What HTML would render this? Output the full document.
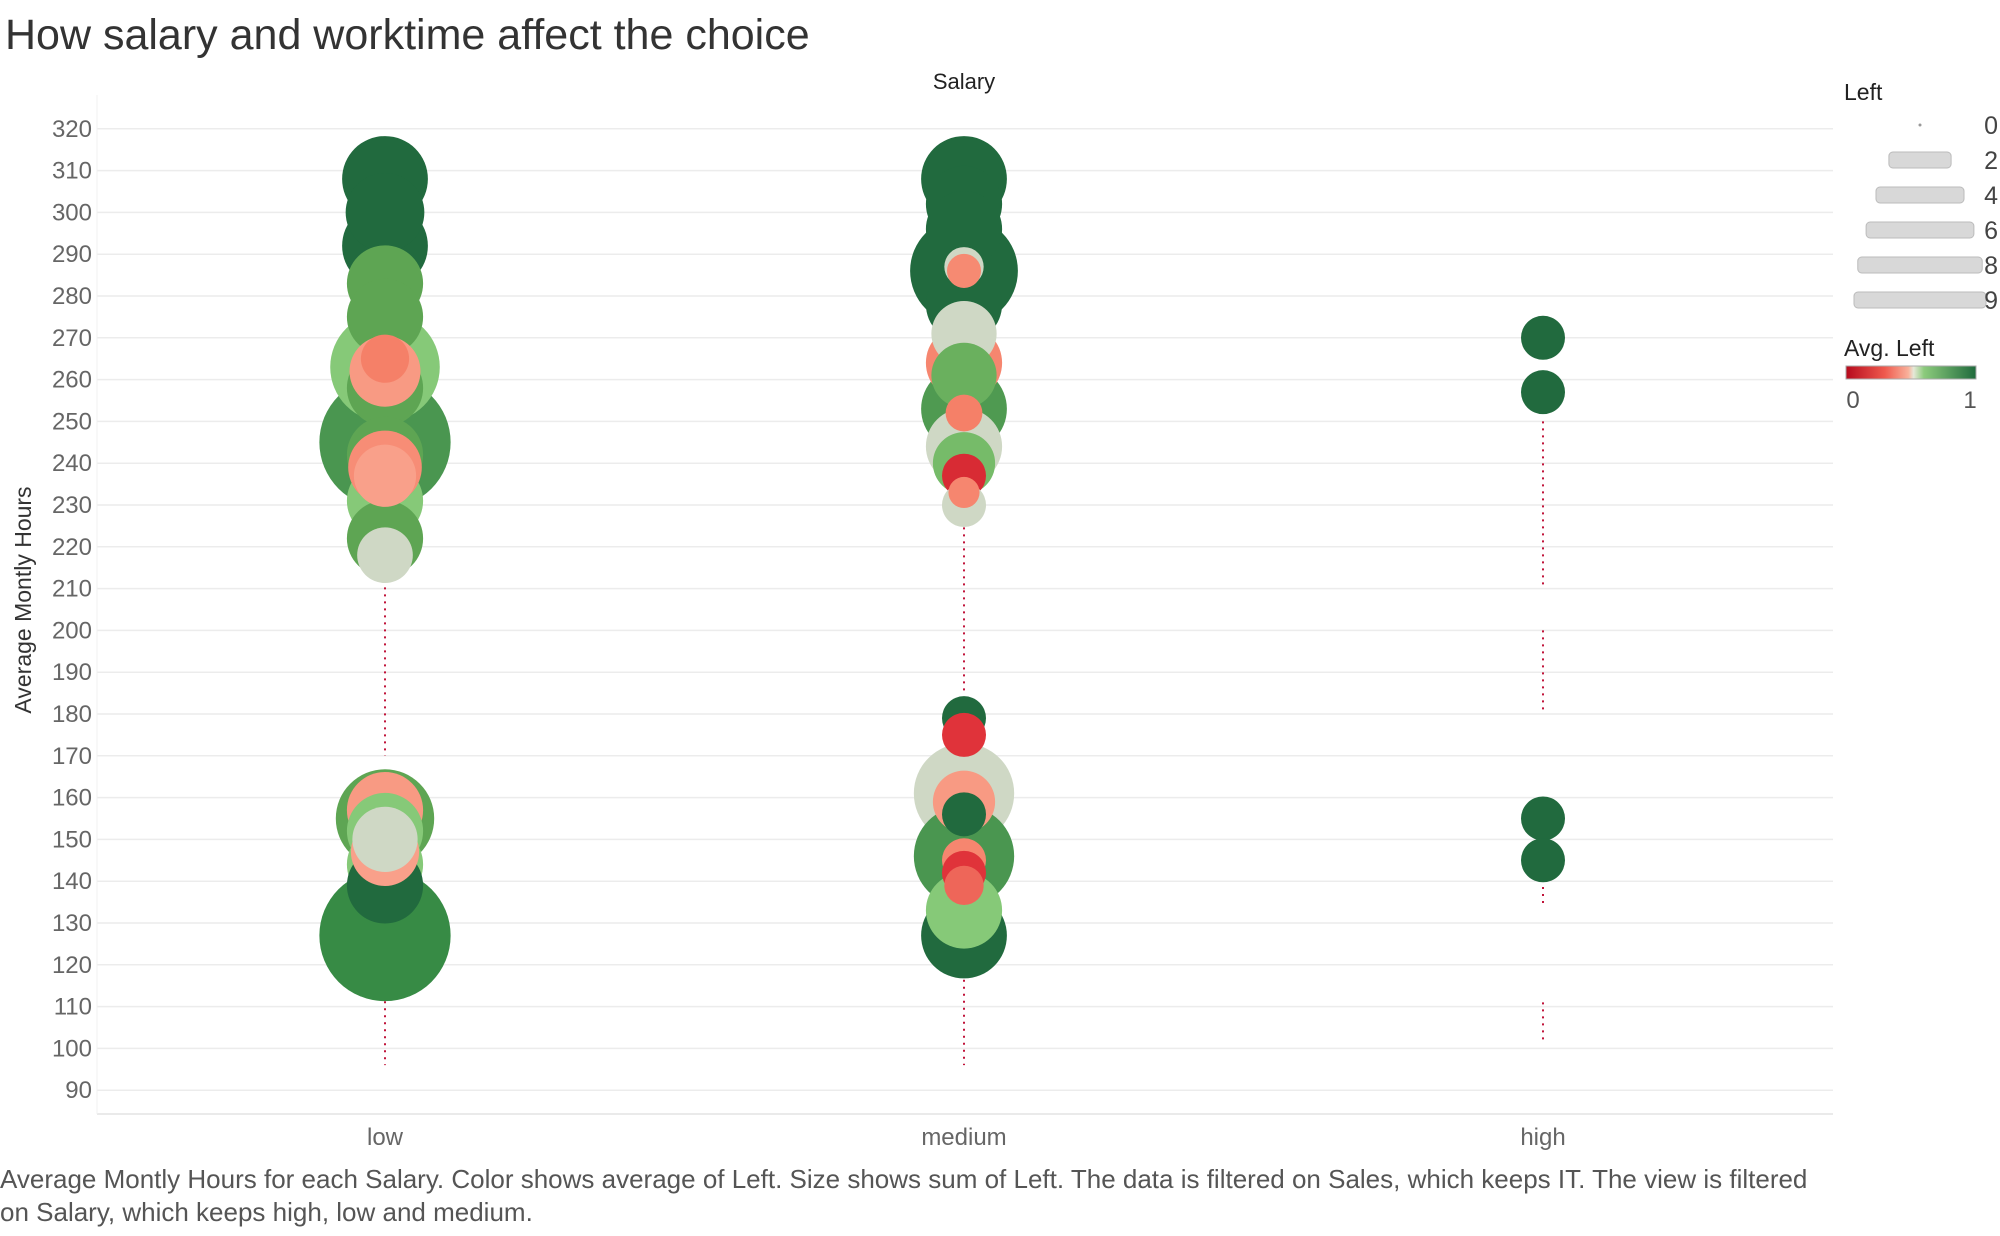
<!DOCTYPE html>
<html><head><meta charset="utf-8"><style>
body{margin:0;background:#fff;}
svg text{font-family:"Liberation Sans",sans-serif;}
</style></head><body>
<svg id="c" width="2000" height="1231" viewBox="0 0 2000 1231" xmlns="http://www.w3.org/2000/svg">
<text x="5" y="49" font-size="43" fill="#333">How salary and worktime affect the choice</text>
<text x="964" y="89" font-size="22" fill="#222" text-anchor="middle">Salary</text>
<g id="grid"></g><g id="dots"></g><g id="bubbles"></g><g id="axes"></g>
<text transform="translate(31,600) rotate(-90)" font-size="23" fill="#333" text-anchor="middle">Average Montly Hours</text>
<text x="0" y="1188" font-size="26" fill="#555">Average Montly Hours for each Salary.  Color shows average of Left.  Size shows sum of Left. The data is filtered on Sales, which keeps IT. The view is filtered</text>
<text x="0" y="1221" font-size="26" fill="#555">on Salary, which keeps high, low and medium.</text>
<g>
<text x="1844" y="100" font-size="23" fill="#222">Left</text>
<g id="sizeLeg"></g>
</g>
<g>
<text x="1844" y="356" font-size="23" fill="#222">Avg. Left</text>
<defs><linearGradient id="gr" x1="0" x2="1"><stop offset="0" stop-color="#b60a1c"/><stop offset="0.3" stop-color="#ef5a4e"/><stop offset="0.48" stop-color="#f9b19b"/><stop offset="0.52" stop-color="#e6e8d8"/><stop offset="0.6" stop-color="#8ccb7c"/><stop offset="1" stop-color="#1f6a3c"/></linearGradient></defs>
<rect x="1846" y="366" width="130" height="13" fill="url(#gr)" stroke="#aaa" stroke-width="1"/>
<text x="1853" y="408" font-size="24" fill="#555" text-anchor="middle">0</text>
<text x="1970" y="408" font-size="24" fill="#555" text-anchor="middle">1</text>
</g>
</svg>
<script>
const categories=["low","medium","high"];
const yTicks=[90,100,110,120,130,140,150,160,170,180,190,200,210,220,230,240,250,260,270,280,290,300,310,320];
const bubbleCat=["low","low","low","low","low","low","low","low","low","low","low","low","low","low","low","low",
"low","low","low","low","low","low","low","low",
"medium","medium","medium","medium","medium","medium","medium","medium","medium","medium","medium","medium","medium","medium","medium","medium","medium",
"medium","medium","medium","medium","medium","medium","medium","medium","medium","medium","medium",
"high","high","high","high"];
const bubbleHours=[308,300,292,283,275,263,265,262,258,245,242,239,237,231,222,218,
155,157,152,150,147,144,139,127,
308,302,296,286,286,287,278,271,264,261,253,252,244,240,237,233,230,
179,175,161,159,156,146,145,142,139,133,127,
270,257,155,145];
const bubbleSum=[3.8,3.2,3.8,3.0,3.0,6.2,1.2,2.6,3.0,8.9,3.0,2.8,2.0,3.0,3.0,1.6,
5.0,3.0,3.0,2.2,2.4,3.0,3.0,8.9,
3.8,3.0,3.0,6.0,0.6,0.8,3.0,2.2,3.0,2.2,3.8,0.7,3.0,2.0,1.0,0.5,1.0,
1.0,1.0,5.2,2.0,1.0,5.2,1.0,1.0,0.8,3.0,3.8,
1.0,1.0,1.0,1.0];
const bubbleAvg=[1,1,1,0.78,0.78,0.68,0.3,0.38,0.78,0.86,0.78,0.34,0.4,0.68,0.78,0.5,
0.78,0.38,0.68,0.5,0.4,0.68,1,0.9,
1,1,1,1,0.33,0.5,1,0.5,0.32,0.75,0.84,0.3,0.5,0.72,0.12,0.32,0.5,
1,0.15,0.5,0.38,1,0.86,0.32,0.15,0.25,0.68,1,
1,1,1,1];
const dotCat=["low","low","medium","medium","medium","high","high","high","high"];
const dotFrom=[170,96,185,96,120,102,180,210,134];
const dotTo=[217,123,228,170,124,111,200,250,152];
const legendValues=[0,2,4,6,8,9];

const NS="http://www.w3.org/2000/svg";
const X0=97,X1=1833,YB=1114;
function xPos(c){const i=categories.indexOf(c);return 385+i*579;}
function yPos(h){return 128.8+(320-h)*4.18;}
function rad(v){return 22*Math.sqrt(v);}
const stops=[[0,[182,10,28]],[0.15,[224,51,58]],[0.3,[245,128,104]],[0.4,[249,160,138]],[0.5,[207,216,197]],[0.68,[134,201,120]],[0.78,[94,165,83]],[0.86,[74,150,80]],[0.92,[46,133,64]],[1,[33,106,62]]];
function color(a){for(let i=1;i<stops.length;i++){if(a<=stops[i][0]){const[a0,c0]=stops[i-1],[a1,c1]=stops[i];const t=(a-a0)/(a1-a0);return"rgb("+c0.map((v,k)=>Math.round(v+(c1[k]-v)*t)).join(",")+")";}}return"rgb(33,106,62)";}
function mk(tag,attrs,parent){const e=document.createElementNS(NS,tag);for(const k in attrs)e.setAttribute(k,attrs[k]);parent.appendChild(e);return e;}
const grid=document.getElementById("grid"),axes=document.getElementById("axes");
yTicks.forEach(t=>{
 const l=mk("line",{x1:X0,x2:X1,y1:yPos(t),y2:yPos(t),stroke:"#ececec","stroke-width":1.5},grid);
 
 
 const tx=mk("text",{x:92,y:yPos(t)+8,"font-size":24,fill:"#666","text-anchor":"end"},axes);
 tx.textContent=t;
 
 
});
const ax=mk("line",{x1:X0,x2:X1,y1:YB,y2:YB,stroke:"#e4e4e4","stroke-width":1.5},axes);


const va=mk("line",{x1:X0,x2:X0,y1:95,y2:YB,stroke:"#f0f0f0","stroke-width":1},axes);


categories.forEach(c=>{
 const tx=mk("text",{x:xPos(c),y:1145,"font-size":24,fill:"#666","text-anchor":"middle"},axes);
 tx.textContent=c;
 
 
});
const dots=document.getElementById("dots");
dotCat.forEach((c,i)=>{
 const l=mk("line",{x1:xPos(c),x2:xPos(c),y1:yPos(dotTo[i]),y2:yPos(dotFrom[i]),stroke:"#c0143a","stroke-width":2,"stroke-dasharray":"2 5"},dots);
 
 
});
const bg=document.getElementById("bubbles");
const order=bubbleCat.map((c,i)=>i).sort((a,b)=>bubbleSum[b]-bubbleSum[a]);
order.forEach(i=>{
 const ci=mk("circle",{cx:xPos(bubbleCat[i]),cy:yPos(bubbleHours[i]),r:rad(bubbleSum[i]),fill:color(bubbleAvg[i])},bg);
 
 
});
const sl=document.getElementById("sizeLeg");
legendValues.forEach((v,i)=>{
 const y=125+i*35;
 if(v===0){const d=mk("circle",{cx:1920,cy:y,r:1.5,fill:"#999"},sl);}
 else{const r=rad(v);const b=mk("rect",{x:1920-r,y:y-8,width:2*r,height:16,rx:4,fill:"#d8d8d8",stroke:"#bbb","stroke-width":1},sl);}
 const t=mk("text",{x:1998,y:y+9,"font-size":25,fill:"#444","text-anchor":"end"},sl);
 t.textContent=v;
 
 
});
</script>
</body></html>
